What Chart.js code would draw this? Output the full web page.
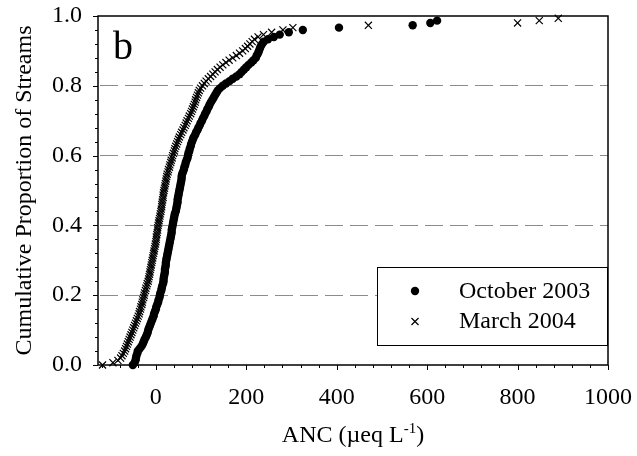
<!DOCTYPE html>
<html>
<head>
<meta charset="utf-8">
<title>Cumulative proportion of streams by ANC</title>
<script src="https://cdn.jsdelivr.net/npm/chart.js@4.4.1/dist/chart.umd.min.js"></script>
<style>
  html, body { margin: 0; padding: 0; background: #fff; }
  #chart { display: block; }
</style>
</head>
<body>
<canvas id="chart" width="637" height="456"></canvas>
<script>
// Sorted ANC values (ueq/L), one per stream
const STREAM_COUNT = 150;

const octoberAnc = [
  -51, -47, -45, -44, -43, -41, -40, -36, -32, -29,
  -27, -25, -22, -20, -18, -17, -15, -13, -11, -9,
  -7, -5, -4, -2, 0, 1, 3, 5, 6, 8,
  9, 10, 12, 13, 14, 16, 17, 17, 18, 19,
  20, 20, 21, 22, 22, 23, 24, 25, 26, 27,
  28, 29, 30, 31, 32, 33, 34, 35, 35, 36,
  37, 38, 39, 40, 41, 42, 44, 45, 46, 47,
  48, 48, 49, 50, 51, 52, 53, 54, 55, 56,
  57, 57, 58, 60, 62, 63, 65, 66, 68, 70,
  71, 72, 74, 75, 77, 78, 80, 82, 84, 87,
  89, 92, 94, 97, 99, 102, 104, 107, 109, 112,
  114, 117, 119, 122, 125, 128, 131, 134, 137, 142,
  148, 155, 163, 170, 178, 185, 190, 195, 200, 205,
  211, 216, 221, 223, 226, 228, 230, 232, 235, 239,
  248, 261, 274, 294, 325, 405, 568, 607, 622
];

const marchAnc = [
  -118, -95, -84, -78, -75, -72, -69, -67, -65, -63,
  -61, -59, -57, -55, -53, -51, -49, -47, -45, -43,
  -41, -39, -37, -36, -34, -33, -31, -30, -29, -27,
  -26, -25, -23, -22, -20, -19, -17, -16, -15, -14,
  -13, -12, -11, -10, -9, -8, -7, -6, -5, -4,
  -3, -2, -1, 0, 1, 1, 2, 3, 4, 4,
  5, 6, 7, 8, 9, 10, 11, 12, 13, 13,
  14, 15, 16, 16, 17, 18, 19, 20, 21, 22,
  23, 24, 25, 27, 28, 30, 31, 33, 34, 36,
  37, 39, 41, 42, 44, 46, 48, 50, 52, 55,
  57, 60, 62, 65, 67, 69, 72, 74, 77, 79,
  81, 83, 85, 87, 88, 90, 92, 94, 96, 99,
  103, 107, 111, 116, 121, 126, 131, 136, 142, 148,
  155, 162, 170, 178, 185, 192, 198, 203, 208, 213,
  218, 226, 238, 256, 281, 303, 470, 800, 848, 890
];

const seriesLabels = ['October 2003', 'March 2004'];

const xMajorTicks = [0, 200, 400, 600, 800, 1000];
const xMinorTicks = [-120, -80, -40, 40, 80, 120, 160, 240, 280, 320, 360,
  440, 480, 520, 560, 640, 680, 720, 760, 840, 880, 920, 960];
const yMajorTicks = [0, 0.2, 0.4, 0.6, 0.8, 1.0];
const yMinorTicks = [0.04, 0.08, 0.12, 0.16, 0.24, 0.28, 0.32, 0.36, 0.44, 0.48,
  0.52, 0.56, 0.64, 0.68, 0.72, 0.76, 0.84, 0.88, 0.92, 0.96];

const yTitle = 'Cumulative Proportion of Streams';
const xTitle = 'ANC (\u00b5eq L';
const xTitleSup = '-1';
const xTitleEnd = ')';
const panelLetter = 'b';

const SERIF = "'Liberation Serif', 'Times New Roman', serif";

// cumulative proportion = rank / number of streams
function toPoints(values) {
  return values.map((v, i) => ({ x: v, y: i / STREAM_COUNT }));
}

const octStyle = { pointStyle: 'circle', radius: 4.2, borderWidth: 0 };
const marStyle = { pointStyle: 'crossRot', radius: 5, borderWidth: 1.2 };

// don't let end labels push the plot area around
function noScalePadding(scale) {
  scale.paddingTop = 0;
  scale.paddingBottom = 0;
  scale.paddingLeft = 0;
  scale.paddingRight = 0;
}

// frame + tick marks, under the points
const framePlugin = {
  id: 'frame',
  beforeDatasetsDraw(chart) {
    const { ctx, chartArea: a, scales: { x, y } } = chart;
    ctx.save();
    ctx.strokeStyle = '#000';
    ctx.lineWidth = 1;
    ctx.beginPath();
    xMajorTicks.forEach(v => {
      const px = Math.round(x.getPixelForValue(v)) + 0.5;
      ctx.moveTo(px, a.bottom); ctx.lineTo(px, a.bottom + 5);
    });
    xMinorTicks.forEach(v => {
      const px = Math.round(x.getPixelForValue(v)) + 0.5;
      ctx.moveTo(px, a.bottom); ctx.lineTo(px, a.bottom + 3);
    });
    yMajorTicks.forEach(v => {
      const py = Math.round(y.getPixelForValue(v)) + 0.5;
      ctx.moveTo(a.left, py); ctx.lineTo(a.left - 5, py);
    });
    yMinorTicks.forEach(v => {
      const py = Math.round(y.getPixelForValue(v)) + 0.5;
      ctx.moveTo(a.left, py); ctx.lineTo(a.left - 3, py);
    });
    ctx.stroke();

    ctx.lineWidth = 1.5;
    ctx.strokeRect(a.left, a.top, a.right - a.left, a.bottom - a.top);
    ctx.restore();
  },
  afterDraw(chart) {
    const { ctx, chartArea: a } = chart;
    const sets = chart.data.datasets;
    ctx.save();

    // legend box
    const box = { left: 377, top: 267, right: a.right - 1, bottom: 345 };
    ctx.fillStyle = '#fff';
    ctx.fillRect(box.left, box.top, box.right - box.left, box.bottom - box.top);
    ctx.strokeStyle = '#000';
    ctx.lineWidth = 1;
    ctx.strokeRect(box.left + 0.5, box.top + 0.5, box.right - box.left, box.bottom - box.top);

    const rows = [291, 321.5];
    sets.forEach((ds, i) => {
      ctx.fillStyle = '#000';
      ctx.strokeStyle = '#000';
      ctx.lineWidth = ds.pointBorderWidth;
      Chart.helpers.drawPoint(ctx, {
        pointStyle: ds.pointStyle, radius: ds.pointRadius,
        borderWidth: ds.pointBorderWidth, rotation: 0
      }, 415, rows[i]);
      ctx.font = '24px ' + SERIF;
      ctx.textAlign = 'left';
      ctx.textBaseline = 'middle';
      ctx.fillText(ds.label, 459, rows[i] + 0.5);
    });

    // x axis title with superscript
    ctx.fillStyle = '#000';
    ctx.textBaseline = 'alphabetic';
    ctx.textAlign = 'left';
    const mainFont = '24px ' + SERIF;
    const supFont = '15px ' + SERIF;
    ctx.font = mainFont;
    const w1 = ctx.measureText(xTitle).width;
    const w3 = ctx.measureText(xTitleEnd).width;
    ctx.font = supFont;
    const w2 = ctx.measureText(xTitleSup).width;
    const cx = (a.left + a.right) / 2;
    let tx = cx - (w1 + w2 + w3) / 2;
    const base = 442;
    ctx.font = mainFont;
    ctx.fillText(xTitle, tx, base);
    tx += w1;
    ctx.font = supFont;
    ctx.fillText(xTitleSup, tx, base - 9);
    tx += w2;
    ctx.font = mainFont;
    ctx.fillText(xTitleEnd, tx, base);

    // panel letter
    ctx.font = '40px ' + SERIF;
    ctx.fillText(panelLetter, 113, 59);
    ctx.restore();
  }
};

const chart = new Chart(document.getElementById('chart'), {
  type: 'scatter',
  data: {
    datasets: [
      {
        label: seriesLabels[0],
        data: toPoints(octoberAnc),
        pointStyle: octStyle.pointStyle,
        pointRadius: octStyle.radius,
        pointBorderWidth: octStyle.borderWidth,
        pointBackgroundColor: '#000',
        pointBorderColor: '#000',
        order: 2,
        clip: false
      },
      {
        label: seriesLabels[1],
        data: toPoints(marchAnc),
        pointStyle: marStyle.pointStyle,
        pointRadius: marStyle.radius,
        pointBorderWidth: marStyle.borderWidth,
        pointBackgroundColor: '#000',
        pointBorderColor: '#000',
        order: 1,
        clip: false
      }
    ]
  },
  options: {
    responsive: false,
    animation: false,
    devicePixelRatio: 1,
    events: [],
    layout: { padding: { left: 0, top: 16, right: 29, bottom: 0 } },
    plugins: { legend: { display: false }, tooltip: { enabled: false } },
    scales: {
      x: {
        type: 'linear',
        min: -128,
        max: 1000,
        afterFit(scale) { scale.height = 91; noScalePadding(scale); },
        afterBuildTicks(scale) { scale.ticks = xMajorTicks.map(v => ({ value: v })); },
        grid: { display: false, drawTicks: false },
        border: { display: false },
        ticks: {
          autoSkip: false,
          maxRotation: 0,
          padding: 18,
          color: '#000',
          font: { family: SERIF, size: 24 },
          callback: v => String(v)
        },
        title: { display: false }
      },
      y: {
        type: 'linear',
        min: 0,
        max: 1,
        afterFit(scale) { scale.width = 98; noScalePadding(scale); },
        afterBuildTicks(scale) { scale.ticks = yMajorTicks.map(v => ({ value: v })); },
        grid: {
          drawTicks: false,
          lineWidth: 1,
          color: c => (c.tick && c.tick.value > 0.01 && c.tick.value < 0.99) ? '#8c8c8c' : 'rgba(0,0,0,0)'
        },
        border: { display: false, dash: [18, 7], dashOffset: 23 },
        ticks: {
          padding: 16,
          color: '#000',
          font: { family: SERIF, size: 24 },
          callback: v => v.toFixed(1)
        },
        title: {
          display: true,
          text: yTitle,
          color: '#000',
          font: { family: SERIF, size: 24 },
          padding: { top: 10, bottom: 0 }
        }
      }
    }
  },
  plugins: [framePlugin]
});
</script>
</body>
</html>
